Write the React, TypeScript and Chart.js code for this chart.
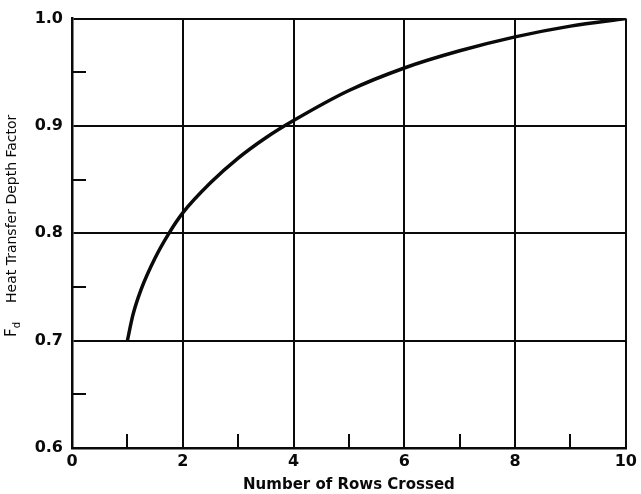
import React, { useEffect, useRef } from "react";
import { Chart, registerables } from "chart.js";

Chart.register(...registerables);

// Heat transfer depth factor Fd versus number of tube rows crossed
const rowsCrossed = [1, 1.1, 1.25, 1.5, 1.75, 2, 2.5, 3, 3.5, 4, 5, 6, 7, 8, 9, 10];
const depthFactor = [0.7, 0.724, 0.748, 0.777, 0.8, 0.819, 0.847, 0.87, 0.889, 0.905, 0.933, 0.954, 0.97, 0.983, 0.993, 1.0];

// Short inward tick marks between the labelled grid lines
const xMinorTicks = [1, 3, 5, 7, 9];
const yMinorTicks = [0.65, 0.75, 0.85, 0.95];

const xTitle = "Number of Rows Crossed";
const yTitleSymbol = "F";
const yTitleSubscript = "d";
const yTitle = "Heat Transfer Depth Factor";

const INK = "#0a0a0a";

const extrasPlugin = {
  id: "depthExtras",
  afterDraw(chart: any) {
    const { ctx, chartArea, scales } = chart;
    const xs = scales.x;
    const ys = scales.y;
    const len = 14;
    ctx.save();
    ctx.strokeStyle = INK;
    ctx.lineWidth = 2;
    ctx.beginPath();
    for (const v of xMinorTicks) {
      const px = Math.round(xs.getPixelForValue(v));
      ctx.moveTo(px, chartArea.bottom);
      ctx.lineTo(px, chartArea.bottom - len);
    }
    for (const v of yMinorTicks) {
      const py = Math.round(ys.getPixelForValue(v));
      ctx.moveTo(chartArea.left, py);
      ctx.lineTo(chartArea.left + len, py);
    }
    ctx.stroke();

    // rotated y-axis title with subscripted symbol
    const cx = 12;
    const startY = chartArea.bottom - 111;
    ctx.translate(cx, startY);
    ctx.rotate(-Math.PI / 2);
    ctx.fillStyle = INK;
    ctx.textBaseline = "middle";
    ctx.textAlign = "left";
    ctx.font = "15px 'DejaVu Sans'";
    ctx.fillText(yTitleSymbol, 0, 0);
    const fw = ctx.measureText(yTitleSymbol).width;
    ctx.font = "10px 'DejaVu Sans'";
    ctx.fillText(yTitleSubscript, fw, 5);
    ctx.font = "14px 'DejaVu Sans'";
    ctx.fillText(yTitle, 34, 0);
    ctx.restore();
  },
};

export default function App() {
  const canvasRef = useRef<HTMLCanvasElement | null>(null);

  useEffect(() => {
    const canvas = canvasRef.current;
    if (!canvas) return;
    const points = rowsCrossed.map((x, i) => ({ x, y: depthFactor[i] }));
    const chart = new Chart(canvas, {
      type: "line",
      data: {
        datasets: [
          {
            data: points,
            borderColor: INK,
            borderWidth: 3.5,
            pointRadius: 0,
            fill: false,
            cubicInterpolationMode: "monotone",
          },
        ],
      },
      options: {
        animation: false,
        responsive: true,
        maintainAspectRatio: false,
        layout: { padding: { left: 0, right: 15, top: 15, bottom: 0 } },
        plugins: {
          legend: { display: false },
          tooltip: { enabled: false },
        },
        scales: {
          x: {
            type: "linear",
            min: 0,
            max: 10,
            afterFit: (s: any) => {
              s.height = 46;
            },
            ticks: {
              stepSize: 2,
              padding: 4,
              color: INK,
              font: { family: "'DejaVu Sans'", size: 16, weight: "bold" },
            },
            grid: { color: INK, lineWidth: 2, drawTicks: false },
            border: { color: INK, width: 2.5 },
            title: {
              display: true,
              text: xTitle,
              color: INK,
              font: { family: "'DejaVu Sans'", size: 15, weight: "bold" },
              padding: { top: 0, bottom: 0 },
            },
          },
          y: {
            type: "linear",
            min: 0.6,
            max: 1.0,
            afterFit: (s: any) => {
              s.width = 72;
            },
            ticks: {
              stepSize: 0.1,
              padding: 9,
              color: INK,
              font: { family: "'DejaVu Sans'", size: 16, weight: "bold" },
              callback: (v: any) => Number(v).toFixed(1),
            },
            grid: { color: INK, lineWidth: 2, drawTicks: false },
            border: { color: INK, width: 2.5 },
          },
        },
      },
      plugins: [extrasPlugin],
    });
    return () => chart.destroy();
  }, []);

  return (
    <div
      style={{
        position: "fixed",
        left: 0,
        top: 0,
        width: 641,
        height: 494,
        background: "#ffffff",
      }}
    >
      <canvas ref={canvasRef} />
    </div>
  );
}
